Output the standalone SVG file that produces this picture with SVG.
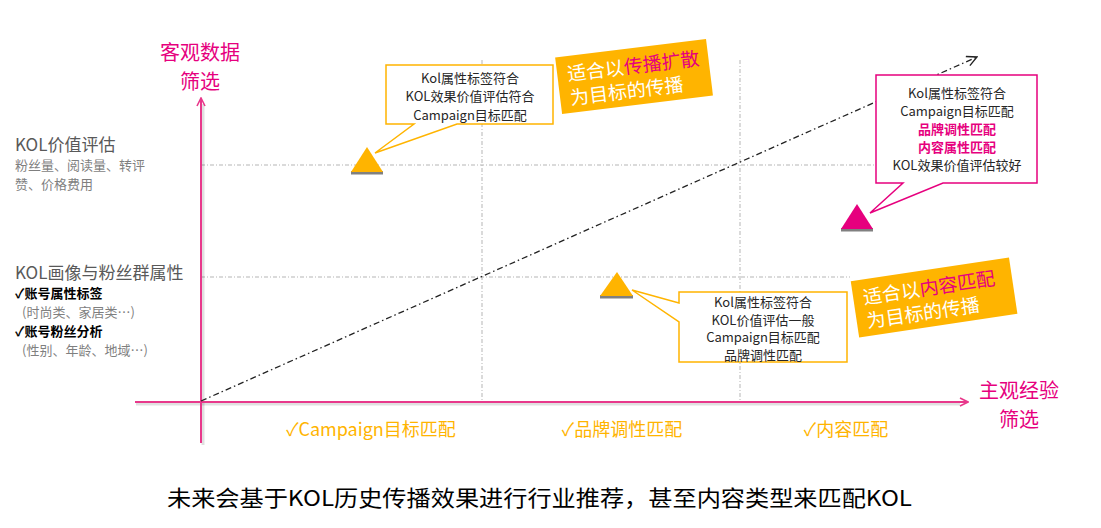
<svg xmlns="http://www.w3.org/2000/svg" width="1101" height="528" viewBox="0 0 1101 528">
<defs>
<style>
text{font-family:"Noto Sans CJK SC","Noto Sans",sans-serif}
.grid{stroke:#b5b5b5;stroke-width:1;stroke-dasharray:4 2 1 2;fill:none}
.axis{stroke:#E8388B;stroke-width:2;fill:none}
.axsh{stroke:#000;stroke-opacity:0.12;stroke-width:3;fill:none}
.ctext{font-size:13px;fill:#262626;text-anchor:middle}
.cpink{font-size:13px;fill:#E6007E;font-weight:bold;text-anchor:middle}
.ptitle{font-size:20px;fill:#E6007E;text-anchor:middle}
.xlab{font-size:18px;fill:#FFB400;text-anchor:middle}
.ban{font-size:19px;fill:#ffffff}
.banp{fill:#E6007E}
.lt{font-size:17px;fill:#595959}
.ls{font-size:13px;fill:#7f7f7f}
.lb{font-size:13px;fill:#000;font-weight:bold}
</style>
<marker id="openArr" viewBox="0 0 10 10" refX="9" refY="5" markerWidth="10" markerHeight="10" markerUnits="userSpaceOnUse" orient="auto">
<path d="M1,1 L9,5 L1,9" fill="none" stroke="#E8388B" stroke-width="1.6"/>
</marker>
<marker id="blkArr" viewBox="0 0 12 12" refX="11" refY="6" markerWidth="12" markerHeight="12" markerUnits="userSpaceOnUse" orient="auto">
<path d="M1,1 L11,6 L1,11" fill="none" stroke="#222" stroke-width="1.4"/>
</marker>
</defs>
<rect width="1101" height="528" fill="#ffffff"/>

<g id="grid">
<line class="grid" x1="201" y1="165" x2="875" y2="165"/>
<line class="grid" x1="201" y1="277" x2="850" y2="277"/>
<line class="grid" x1="482" y1="60" x2="482" y2="401"/>
<line class="grid" x1="740" y1="60" x2="740" y2="401"/>
</g>

<g id="connectors">
<line class="axsh" x1="203" y1="445" x2="203" y2="104"/>
<line class="axsh" x1="136" y1="404" x2="960" y2="404"/>
<line class="axis" x1="201" y1="443" x2="201" y2="98" marker-end="url(#openArr)"/>
<line class="axis" x1="135" y1="402" x2="968" y2="402" marker-end="url(#openArr)"/>
<line x1="201" y1="401" x2="977" y2="57" stroke="#222" stroke-width="1.3" stroke-dasharray="6 3 1.5 3" marker-end="url(#blkArr)"/>
</g>

<g id="axis-y-title">
<text class="ptitle" x="200" y="60">客观数据</text>
<text class="ptitle" x="200" y="89">筛选</text>
</g>
<g id="axis-x-title">
<text class="ptitle" x="1019" y="398">主观经验</text>
<text class="ptitle" x="1019" y="427">筛选</text>
</g>

<g id="left-label-1">
<text class="lt" x="15" y="151">KOL价值评估</text>
<text class="ls" x="15" y="170">粉丝量、阅读量、转评</text>
<text class="ls" x="15" y="189">赞、价格费用</text>
</g>
<g id="left-label-2">
<text class="lt" x="15" y="279">KOL画像与粉丝群属性</text>
<text class="lb" x="15" y="298">✓账号属性标签</text>
<text class="ls" x="22" y="317">(时尚类、家居类…)</text>
<text class="lb" x="15" y="336">✓账号粉丝分析</text>
<text class="ls" x="22" y="355">(性别、年龄、地域…)</text>
</g>

<g id="x-labels">
<text class="xlab" x="371" y="436">✓Campaign目标匹配</text>
<text class="xlab" x="622" y="436">✓品牌调性匹配</text>
<text class="xlab" x="846" y="436">✓内容匹配</text>
</g>

<g id="triangle-1">
<rect x="351" y="171" width="32" height="3.5" fill="#808080"/>
<polygon points="367,147 383,172 351,172" fill="#FFB400"/>
</g>
<g id="triangle-2">
<rect x="600" y="295" width="33" height="3.5" fill="#808080"/>
<polygon points="617,272 633,296 600,296" fill="#FFB400"/>
</g>
<g id="triangle-3">
<rect x="841" y="228" width="32" height="3.5" fill="#808080"/>
<polygon points="857,204 873,229 841,229" fill="#E6007E"/>
</g>

<g id="callout-1">
<path d="M386,65 H553 V124 H457 L375,153 L414,124 H386 Z" fill="#fff" stroke="#FFB400" stroke-width="1.5"/>
<text class="ctext" x="470" y="82.5">Kol属性标签符合</text>
<text class="ctext" x="470" y="101">KOL效果价值评估符合</text>
<text class="ctext" x="470" y="119.5">Campaign目标匹配</text>
</g>

<g id="callout-2">
<path d="M679,292 H847 V362 H679 V322 L632,290 L679,303 Z" fill="#fff" stroke="#FFB400" stroke-width="1.5"/>
<text class="ctext" x="763" y="306.5">Kol属性标签符合</text>
<text class="ctext" x="763" y="324.5">KOL价值评估一般</text>
<text class="ctext" x="763" y="342">Campaign目标匹配</text>
<text class="ctext" x="763" y="359.5">品牌调性匹配</text>
</g>

<g id="callout-3">
<path d="M876,75 H1037 V183 H943 L870,213 L903,183 H876 Z" fill="#fff" stroke="#E6007E" stroke-width="1.5"/>
<text class="ctext" x="957" y="97.5">Kol属性标签符合</text>
<text class="ctext" x="957" y="115.7">Campaign目标匹配</text>
<text class="cpink" x="957" y="133.9">品牌调性匹配</text>
<text class="cpink" x="957" y="152.1">内容属性匹配</text>
<text class="ctext" x="957" y="170.3">KOL效果价值评估较好</text>
</g>

<g id="banner-1" transform="translate(634,76) rotate(-7)">
<rect x="-76" y="-28" width="152" height="57" fill="#FFB400"/>
<text class="ban" x="-66" y="-3">适合以<tspan class="banp">传播扩散</tspan></text>
<text class="ban" x="-66" y="21">为目标的传播</text>
</g>

<g id="banner-2" transform="translate(934,297) rotate(-8.5)">
<rect x="-80" y="-28" width="160" height="57" fill="#FFB400"/>
<text class="ban" x="-70" y="-3">适合以<tspan class="banp">内容匹配</tspan></text>
<text class="ban" x="-70" y="21">为目标的传播</text>
</g>

<g id="footer">
<text x="167" y="506" font-size="22" fill="#000" textLength="745" lengthAdjust="spacingAndGlyphs">未来会基于KOL历史传播效果进行行业推荐，甚至内容类型来匹配KOL</text>
</g>
</svg>
